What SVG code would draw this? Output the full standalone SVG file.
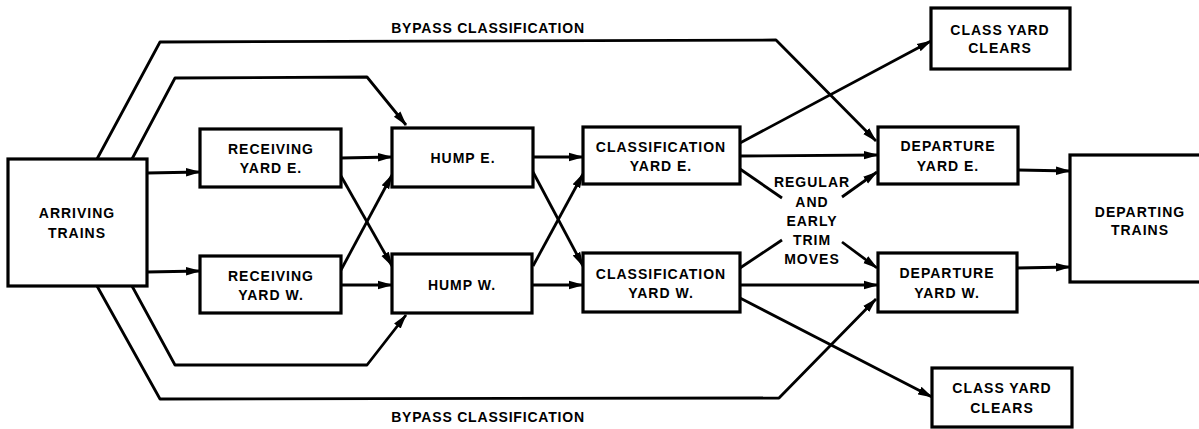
<svg xmlns="http://www.w3.org/2000/svg" width="1199" height="429" viewBox="0 0 1199 429">
<defs>
<marker id="ah" markerUnits="userSpaceOnUse" markerWidth="15" markerHeight="10" refX="14" refY="5" orient="auto">
<path d="M0,0.8 L15,5 L0,9.2 Z" fill="#000"/>
</marker>
<style>
.box{fill:#fff;stroke:#000;stroke-width:3.2}
.t{font-family:"Liberation Sans",Arial,sans-serif;font-weight:bold;font-size:14px;letter-spacing:1px;text-anchor:middle;fill:#000}
.b{letter-spacing:0.8px}
.c{fill:none;stroke:#000;stroke-width:2.8;stroke-linejoin:round}
.a{marker-end:url(#ah)}
</style>
</defs>
<rect width="1199" height="429" fill="#fff"/>
<g id="connectors">
<polyline class="c a" points="97,159 160,42 776,40 876,141"/>
<polyline class="c a" points="132,159 175,78 367,77 406,125"/>
<polyline class="c a" points="132,286 175,365 367,365 406,315"/>
<polyline class="c a" points="97,286 160,399 779,398 876,299"/>
<line class="c a" x1="147" y1="173" x2="200" y2="172"/>
<line class="c a" x1="147" y1="272" x2="200" y2="271"/>
<line class="c a" x1="341" y1="158" x2="392" y2="157"/>
<line class="c a" x1="341" y1="285" x2="392" y2="285"/>
<line class="c a" x1="341" y1="176" x2="392" y2="266"/>
<line class="c a" x1="341" y1="270" x2="392" y2="175"/>
<line class="c a" x1="533" y1="157" x2="583" y2="157"/>
<line class="c a" x1="533" y1="285" x2="583" y2="285"/>
<line class="c a" x1="533" y1="172" x2="583" y2="266"/>
<line class="c a" x1="533" y1="266" x2="583" y2="174"/>
<line class="c a" x1="740" y1="143" x2="931" y2="41"/>
<line class="c a" x1="740" y1="156" x2="878" y2="155"/>
<line class="c" x1="740" y1="169" x2="782" y2="198"/>
<line class="c a" x1="842" y1="242" x2="877" y2="268"/>
<line class="c" x1="740" y1="268" x2="782" y2="240"/>
<line class="c a" x1="842" y1="197" x2="877" y2="172"/>
<line class="c a" x1="740" y1="285" x2="878" y2="285"/>
<line class="c a" x1="740" y1="298" x2="932" y2="397"/>
<line class="c a" x1="1018" y1="170" x2="1070" y2="171"/>
<line class="c a" x1="1017" y1="268" x2="1070" y2="267"/>
</g>
<g id="label-bypass-top"><text class="t b" x="488" y="33">BYPASS CLASSIFICATION</text></g>
<g id="label-bypass-bottom"><text class="t b" x="488" y="422">BYPASS CLASSIFICATION</text></g>
<g id="label-trim">
<text class="t" x="812" y="187">REGULAR</text>
<text class="t" x="812" y="207">AND</text>
<text class="t" x="812" y="226">EARLY</text>
<text class="t" x="812" y="245">TRIM</text>
<text class="t" x="812" y="264">MOVES</text>
</g>
<g id="arriving-trains"><rect class="box" x="8" y="159" width="139" height="127"/><text class="t" x="77" y="218">ARRIVING</text><text class="t" x="77" y="238">TRAINS</text></g>
<g id="receiving-yard-e"><rect class="box" x="200" y="129" width="141" height="58"/><text class="t" x="271" y="154">RECEIVING</text><text class="t" x="271" y="173">YARD E.</text></g>
<g id="receiving-yard-w"><rect class="box" x="200" y="256" width="141" height="57"/><text class="t" x="271" y="281">RECEIVING</text><text class="t" x="271" y="300">YARD W.</text></g>
<g id="hump-e"><rect class="box" x="392" y="128" width="141" height="59"/><text class="t" x="463" y="163">HUMP E.</text></g>
<g id="hump-w"><rect class="box" x="392" y="254" width="140" height="59"/><text class="t" x="462" y="290">HUMP W.</text></g>
<g id="classification-yard-e"><rect class="box" x="583" y="127" width="157" height="57"/><text class="t" x="661" y="152">CLASSIFICATION</text><text class="t" x="661" y="171">YARD E.</text></g>
<g id="classification-yard-w"><rect class="box" x="583" y="253" width="157" height="59"/><text class="t" x="661" y="279">CLASSIFICATION</text><text class="t" x="661" y="298">YARD W.</text></g>
<g id="class-yard-clears-top"><rect class="box" x="931" y="8" width="139" height="61"/><text class="t" x="1000" y="35">CLASS YARD</text><text class="t" x="1000" y="53">CLEARS</text></g>
<g id="departure-yard-e"><rect class="box" x="878" y="127" width="140" height="57"/><text class="t" x="948" y="151">DEPARTURE</text><text class="t" x="948" y="171">YARD E.</text></g>
<g id="departure-yard-w"><rect class="box" x="878" y="253" width="139" height="59"/><text class="t" x="947" y="278">DEPARTURE</text><text class="t" x="947" y="298">YARD W.</text></g>
<g id="class-yard-clears-bottom"><rect class="box" x="932" y="368" width="140" height="59"/><text class="t" x="1002" y="393">CLASS YARD</text><text class="t" x="1002" y="413">CLEARS</text></g>
<g id="departing-trains"><rect class="box" x="1070" y="155" width="140" height="127"/><text class="t" x="1140" y="217">DEPARTING</text><text class="t" x="1140" y="235">TRAINS</text></g>
</svg>
